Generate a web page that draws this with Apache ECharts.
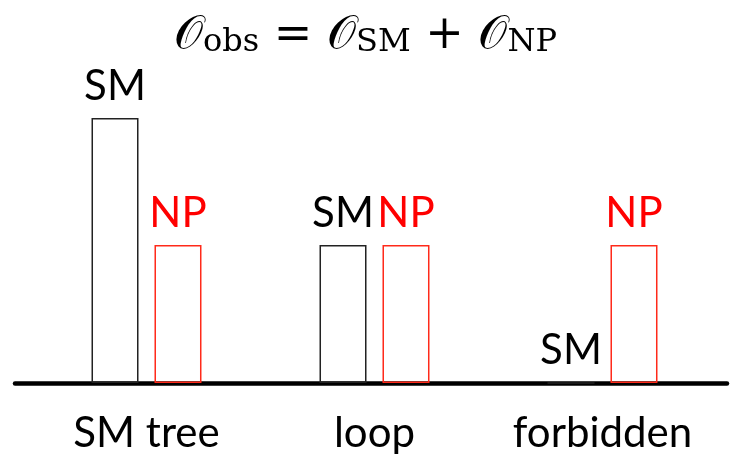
<!DOCTYPE html>
<html>
<head>
<meta charset="utf-8">
<title>Observable decomposition</title>
<script src="https://cdn.jsdelivr.net/npm/echarts@6/dist/echarts.min.js"></script>
<style>
  html, body { margin: 0; padding: 0; background: #ffffff; }
  #chart { width: 731px; height: 461px; }
</style>
</head>
<body>
<div id="chart"></div>
<script>
// Observable contributions per process class
const categories = ['SM tree', 'loop', 'forbidden'];
const smValues = [1.92, 1, 0];
const npValues = [1, 1, 1];
const seriesNames = ['SM', 'NP'];

const chart = echarts.init(document.getElementById('chart'), null, { renderer: 'canvas' });

const labelFont = 'Lato, "DejaVu Sans", sans-serif';
const mathFont = '"DejaVu Serif", "Liberation Serif", serif';

function barSeries(name, values, color, stroke) {
  return {
    name: name,
    type: 'bar',
    xAxisIndex: 0,
    yAxisIndex: 0,
    data: values,
    barWidth: 47,
    barGap: '34%',
    itemStyle: { color: 'rgba(255,255,255,0)', borderColor: stroke, borderWidth: 1.5 },
    label: {
      show: true,
      position: 'top',
      distance: 11,
      formatter: name,
      color: color,
      fontFamily: labelFont,
      fontSize: 42
    },
    emphasis: { disabled: true },
    silent: true,
    animation: false
  };
}

chart.setOption({
  backgroundColor: '#ffffff',
  animation: false,
  title: {
    text: '{o|\u{1D4AA}}{s|obs}{r| = }{o|\u{1D4AA}}{s|SM}{r| + }{o|\u{1D4AA}}{s|NP}',
    left: 'center',
    top: 4,
    textStyle: {
      fontWeight: 'normal',
      rich: {
        o: { fontFamily: mathFont, fontSize: 46, fontWeight: 'normal', lineHeight: 50, color: '#000', verticalAlign: 'bottom' },
        s: { fontFamily: mathFont, fontSize: 32, fontWeight: 'normal', lineHeight: 30, color: '#000', verticalAlign: 'bottom' },
        r: { fontFamily: mathFont, fontSize: 46, fontWeight: 'normal', lineHeight: 50, color: '#000', verticalAlign: 'bottom' }
      }
    }
  },
  grid: [
    { left: 32.5, right: 14.5, top: 38, bottom: 78 },
    { left: 15, right: 4, top: 38, bottom: 78 }
  ],
  xAxis: [
    {
      type: 'category',
      gridIndex: 0,
      data: categories,
      axisLine: { show: false },
      axisTick: { show: false },
      axisLabel: { color: '#000', fontFamily: labelFont, fontSize: 42, margin: 29, interval: 0, hideOverlap: false }
    },
    {
      type: 'value',
      gridIndex: 1,
      min: 0,
      max: 1,
      axisLine: { show: true, onZero: false, lineStyle: { color: '#000', width: 4.5 } },
      axisTick: { show: false },
      axisLabel: { show: false },
      splitLine: { show: false }
    }
  ],
  yAxis: [
    { type: 'value', gridIndex: 0, min: 0, max: 2.5, show: false },
    { type: 'value', gridIndex: 1, min: 0, max: 1, show: false }
  ],
  series: [
    barSeries(seriesNames[0], smValues, '#000000', '#222222'),
    barSeries(seriesNames[1], npValues, '#ff0000', '#ff2a1a')
  ]
});
</script>
</body>
</html>
